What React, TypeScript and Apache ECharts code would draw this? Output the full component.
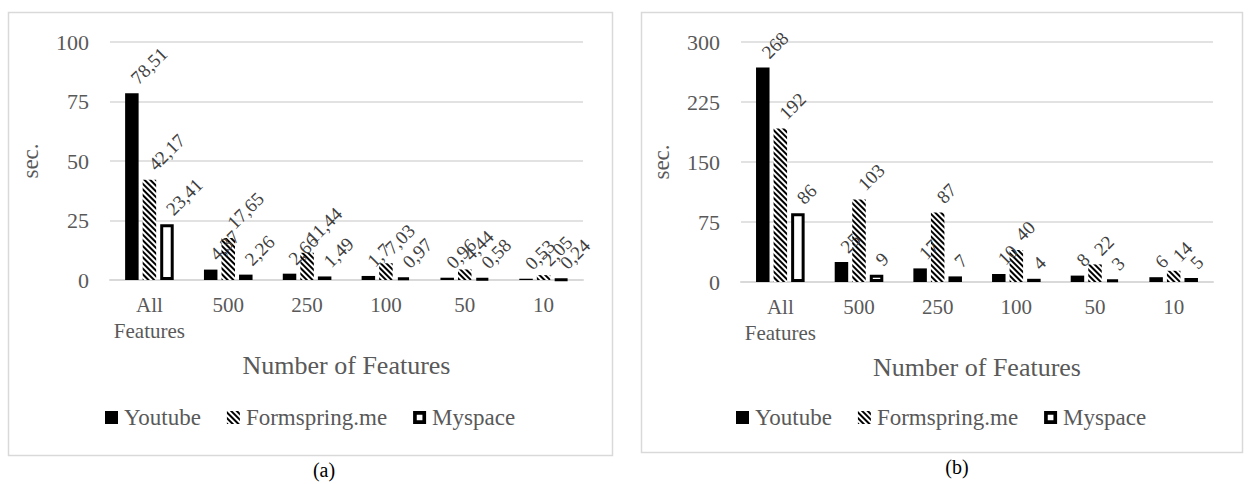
import React, { useEffect, useRef } from "react";
import * as echarts from "echarts";

const categories = ["All\nFeatures", "500", "250", "100", "50", "10"];
const seriesNames = ["Youtube", "Formspring.me", "Myspace"];

// Panel (a)
const youtubeA = [78.51, 4.37, 2.66, 1.7, 0.96, 0.53];
const formspringA = [42.17, 17.65, 11.44, 7.03, 4.44, 2.05];
const myspaceA = [23.41, 2.26, 1.49, 0.97, 0.58, 0.24];
const yTicksA = { min: 0, max: 100, interval: 25 };

// Panel (b)
const youtubeB = [268, 25, 17, 10, 8, 6];
const formspringB = [192, 103, 87, 40, 22, 14];
const myspaceB = [86, 9, 7, 4, 3, 5];
const yTicksB = { min: 0, max: 300, interval: 75 };

const FONT = "Liberation Serif";
const GRID_COLOR = "#d9d9d9";
const TEXT_COLOR = "#595959";

const stripeDecal = {
  symbol: "rect",
  symbolSize: 1,
  dashArrayX: [1, 0],
  dashArrayY: [2, 1.7],
  rotation: Math.PI / 4,
  color: "#000000",
};

const styles = [
  { color: "#000000" },
  { color: "#ffffff", decal: stripeDecal },
  { color: "#ffffff", borderColor: "#000000", borderWidth: 3 },
];

const hollowSquare = "path://M0,0H16V16H0Z M4.5,4.5V11.5H11.5V4.5Z";

export default function App() {
  const ref = useRef<HTMLDivElement>(null);

  useEffect(() => {
    document.body.style.margin = "0";
    const chart = echarts.init(ref.current!, undefined, { renderer: "svg" });

    const labelFmtA = (p: any) => String(p.value).replace(".", ",");
    const labelFmtB = (p: any) => String(p.value);

    const makeSeries = (data: number[][], idx: number, fmt: any) =>
      data.map((d, i) => ({
        name: seriesNames[i],
        type: "bar",
        xAxisIndex: idx,
        yAxisIndex: idx,
        data: d,
        barWidth: 13.5,
        barGap: "30%",
        itemStyle: styles[i],
        label: {
          show: true,
          position: "top",
          rotate: 45,
          align: "left",
          verticalAlign: "middle",
          distance: 6,
          offset: [6, -3],
          fontFamily: FONT,
          fontSize: 19,
          color: "#404040",
          formatter: fmt,
        },
      }));

    const xAxis = (gridIndex: number) => ({
      type: "category",
      gridIndex,
      data: categories,
      axisTick: { show: false },
      axisLine: { lineStyle: { color: GRID_COLOR, width: 2 } },
      axisLabel: {
        fontFamily: FONT,
        fontSize: 21,
        lineHeight: 26,
        color: TEXT_COLOR,
        margin: 12,
        interval: 0,
      },
      name: "Number of Features",
      nameLocation: "middle",
      nameGap: 72,
      nameTextStyle: { fontFamily: FONT, fontSize: 26, color: TEXT_COLOR },
    });

    const yAxis = (gridIndex: number, t: any) => ({
      type: "value",
      gridIndex,
      min: t.min,
      max: t.max,
      interval: t.interval,
      axisLine: { show: false },
      axisTick: { show: false },
      splitLine: { lineStyle: { color: GRID_COLOR, width: 1.5 } },
      axisLabel: { fontFamily: FONT, fontSize: 22, color: TEXT_COLOR, margin: 21 },
      name: "sec.",
      nameLocation: "middle",
      nameGap: 68,
      nameRotate: 90,
      nameTextStyle: { fontFamily: FONT, fontSize: 23, color: TEXT_COLOR },
    });

    const legend = (left: number) => ({
      left,
      top: 406,
      padding: 0,
      itemWidth: 13,
      itemHeight: 13,
      itemGap: 26,
      icon: "rect",
      data: [
        { name: seriesNames[0] },
        { name: seriesNames[1] },
        {
          name: seriesNames[2],
          icon: hollowSquare,
          itemStyle: { color: "#000000", borderWidth: 0 },
        },
      ],
      textStyle: {
        fontFamily: FONT,
        fontSize: 23,
        color: TEXT_COLOR,
        padding: [0, 0, 0, 1],
      },
    });

    chart.setOption({
      animation: false,
      backgroundColor: "#ffffff",
      grid: [
        { left: 110, top: 42, width: 473, height: 238 },
        { left: 741, top: 42, width: 472, height: 240 },
      ],
      xAxis: [xAxis(0), xAxis(1)],
      yAxis: [yAxis(0, yTicksA), yAxis(1, yTicksB)],
      legend: [legend(105), legend(736)],
      series: [
        ...makeSeries([youtubeA, formspringA, myspaceA], 0, labelFmtA),
        ...makeSeries([youtubeB, formspringB, myspaceB], 1, labelFmtB),
      ],
      graphic: [
        {
          type: "rect",
          shape: { x: 8.5, y: 12.5, width: 604, height: 443 },
          style: { fill: "none", stroke: GRID_COLOR, lineWidth: 1.5 },
          silent: true,
        },
        {
          type: "rect",
          shape: { x: 641.5, y: 12.5, width: 601, height: 440 },
          style: { fill: "none", stroke: GRID_COLOR, lineWidth: 1.5 },
          silent: true,
        },
        {
          type: "text",
          x: 324,
          y: 470,
          style: {
            text: "(a)",
            fontFamily: FONT,
            fontSize: 20,
            fill: "#000000",
            align: "center",
            verticalAlign: "middle",
          },
        },
        {
          type: "text",
          x: 957,
          y: 467,
          style: {
            text: "(b)",
            fontFamily: FONT,
            fontSize: 20,
            fill: "#000000",
            align: "center",
            verticalAlign: "middle",
          },
        },
      ],
    });

    return () => chart.dispose();
  }, []);

  return (
    <div
      ref={ref}
      style={{ position: "fixed", left: 0, top: 0, width: 1248, height: 484 }}
    />
  );
}
